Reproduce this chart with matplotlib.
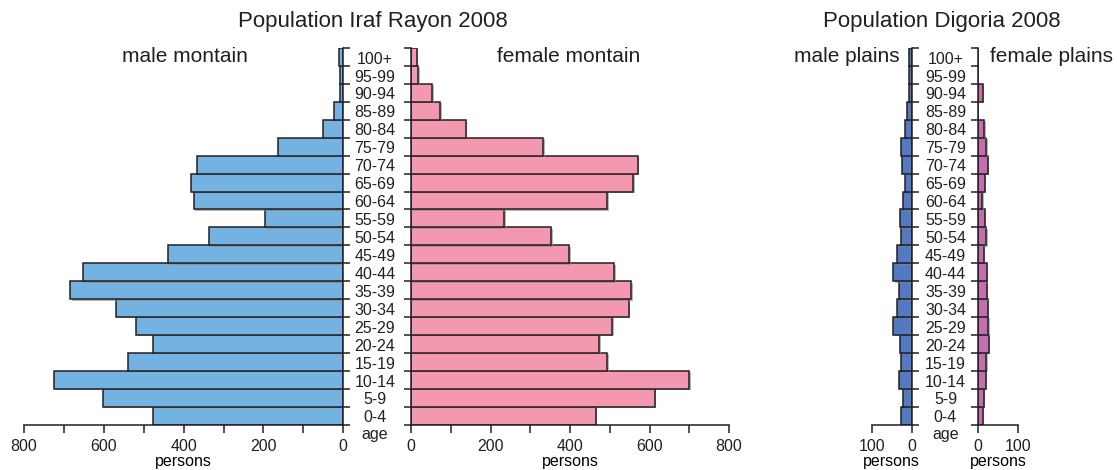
import numpy as np
import matplotlib
matplotlib.use('Agg')
import matplotlib.pyplot as plt
import matplotlib.patheffects as pe

plt.rcParams['font.family'] = ['Liberation Sans', 'DejaVu Sans']
plt.rcParams['text.color'] = '#231f20'

# age groups, bottom to top
ages = ['0-4', '5-9', '10-14', '15-19', '20-24', '25-29', '30-34', '35-39', '40-44', '45-49',
        '50-54', '55-59', '60-64', '65-69', '70-74', '75-79', '80-84', '85-89', '90-94', '95-99', '100+']

male_montain = [478, 603, 724, 540, 476, 519, 570, 684, 652, 440,
                337, 197, 375, 382, 366, 163, 50, 23, 8, 8, 10]
female_montain = [465, 613, 700, 494, 474, 506, 548, 554, 511, 398,
                  353, 235, 494, 559, 570, 333, 138, 74, 54, 18, 15]
male_plains = [26, 23, 32, 28, 30, 46, 36, 31, 46, 38,
               28, 29, 22, 17, 24, 28, 16, 13, 8, 8, 8]
female_plains = [12, 14, 19, 20, 26, 25, 24, 22, 22, 14,
                 20, 17, 10, 17, 23, 20, 15, 0, 11, 0, 0]

c_male_m = '#74b2e2'
c_female_m = '#f398ae'
c_male_p = '#5479c3'
c_female_p = '#c46eb0'
edge = '#231f20'

W, H = 1117, 470
fig = plt.figure(figsize=(W / 100, H / 100), dpi=100)

y_bot, y_top = 424.7, 48.0


def make_ax(x0, x1):
    return fig.add_axes([x0 / W, (H - y_bot) / H, (x1 - x0) / W, (y_bot - y_top) / H])


ax1 = make_ax(24, 343.3)
ax2 = make_ax(411, 729)
ax3 = make_ax(871.7, 911.7)
ax4 = make_ax(978.3, 1018.3)

y = np.arange(len(ages))
shadow = [pe.SimplePatchShadow(offset=(1, -1), shadow_rgbFace='#888888', alpha=0.6), pe.Normal()]

for ax, vals, col, side in [(ax1, male_montain, c_male_m, 'right'), (ax2, female_montain, c_female_m, 'left'),
                            (ax3, male_plains, c_male_p, 'right'), (ax4, female_plains, c_female_p, 'left')]:
    bars = ax.barh(y, vals, height=1.0, color=col, edgecolor=edge, linewidth=1.1)
    for b in bars:
        b.set_path_effects(shadow)
    ax.set_ylim(-0.5, len(ages) - 0.5)
    for s in ['top', 'left', 'right']:
        ax.spines[s].set_visible(False)
    ax.spines[side].set_visible(True)
    for s in ax.spines.values():
        s.set_linewidth(1.1)
        s.set_color(edge)
    ax.yaxis.set_ticks_position(side)
    ax.set_yticks(np.arange(-0.5, len(ages)))
    ax.set_yticklabels([])
    ax.tick_params(axis='y', direction='out', length=5, width=1.1, color=edge)
    ax.tick_params(axis='x', which='both', direction='out', length=6, width=1.1, color=edge,
                   labelsize=11.5, pad=4, labelcolor='#231f20')
    ax.set_xlabel('persons', fontsize=11.5, labelpad=0)
    ax.patch.set_alpha(0)

# mountain axes
ax1.set_xlim(800, 0)
ax2.set_xlim(0, 800)
for ax in (ax1, ax2):
    ax.set_xticks([0, 200, 400, 600, 800])
    ax.set_xticks([100, 300, 500, 700], minor=True)

# plains axes
ax3.set_xlim(100, 0)
ax4.set_xlim(0, 100)
for ax in (ax3, ax4):
    ax.set_xticks([0, 100])

# age labels
for ax, xc in [(ax1, (375 - 24) / 319.3), (ax3, (945.5 - 871.7) / 40)]:
    tr = ax.get_yaxis_transform()
    for i, lab in enumerate(ages):
        ax.text(xc, i - 0.12, lab, transform=tr, ha='center', va='center', fontsize=11.5)
    ax.text(xc, -1.05, 'age', transform=tr, ha='center', va='center', fontsize=11.5)

# titles
fig.text(373 / W, 1 - 21 / H, 'Population Iraf Rayon 2008', ha='center', va='center', fontsize=16)
fig.text(942 / W, 1 - 21 / H, 'Population Digoria 2008', ha='center', va='center', fontsize=16)
fig.text(184.5 / W, 1 - 57 / H, 'male montain', ha='center', va='center', fontsize=15)
fig.text(568.7 / W, 1 - 57 / H, 'female montain', ha='center', va='center', fontsize=15)
fig.text(900 / W, 1 - 57 / H, 'male plains', ha='right', va='center', fontsize=15)
fig.text(990 / W, 1 - 57 / H, 'female plains', ha='left', va='center', fontsize=15)

fig.savefig('out.png', dpi=100)
